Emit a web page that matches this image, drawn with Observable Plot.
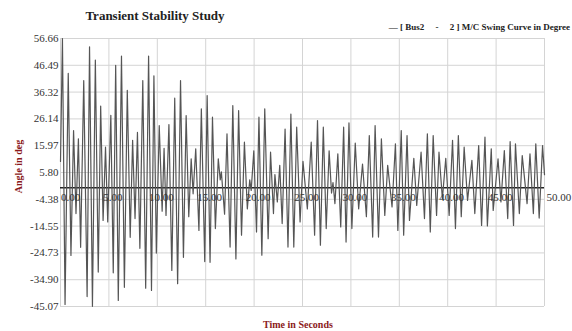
<!DOCTYPE html>
<html>
<head>
<meta charset="utf-8">
<script src="https://cdn.jsdelivr.net/npm/d3@7"></script>
<script src="https://cdn.jsdelivr.net/npm/@observablehq/plot@0.6"></script>
<style>
  html, body { margin: 0; padding: 0; background: #fff; }
  #wrap { position: relative; width: 572px; height: 331px; overflow: hidden; font-family: "Liberation Serif", "DejaVu Serif", serif; }
  #wrap svg { position: absolute; left: 0; top: 0; }
  .title { position: absolute; left: 55px; top: 8px; width: 200px; text-align: center; font-weight: bold; font-size: 13px; color: #222; }
  .legend { position: absolute; right: 2px; top: 22px; font-weight: bold; font-size: 9px; color: #222; white-space: pre; }
  .xlabel { position: absolute; left: 263px; top: 319px; font-weight: bold; font-size: 10px; color: #8b1a1a; white-space: nowrap; }
  .ylabel { position: absolute; left: -12px; top: 161px; width: 60px; text-align: center; transform: rotate(-90deg); font-weight: bold; font-size: 10px; color: #8b1a1a; white-space: nowrap; }
</style>
</head>
<body>
<div id="wrap">
  <div class="title">Transient Stability Study</div>
  <div class="legend">— [ Bus2     -     2 ] M/C Swing Curve in Degree</div>
  <div class="xlabel">Time in Seconds</div>
  <div class="ylabel">Angle in deg</div>
</div>
<script>
const timeSec = [
  0, 0.2, 0.47, 0.8, 1.08, 1.35, 1.6, 1.85, 2.08, 2.4, 2.75, 3.0, 3.3, 3.6, 3.9, 4.15, 4.4, 4.65, 4.88, 5.2,
  5.45, 5.7, 5.97, 6.3, 6.6, 6.9, 7.2, 7.45, 7.7, 7.95, 8.2, 8.5, 8.8, 9.1, 9.4, 9.65, 9.9, 10.2, 10.5, 10.7,
  10.9, 11.2, 11.5, 11.8, 12.1, 12.4, 12.7, 12.98, 13.25, 13.5, 13.7, 13.97, 14.3, 14.55, 14.9, 15.15, 15.45, 15.7, 16.0, 16.3,
  16.5, 16.62, 16.95, 17.2, 17.52, 17.8, 18.12, 18.4, 18.7, 19.0, 19.3, 19.55, 19.7, 19.97, 20.25, 20.5, 20.8, 21.1, 21.45, 21.7,
  22.0, 22.15, 22.4, 22.65, 22.9, 23.2, 23.5, 23.8, 24.1, 24.4, 24.75, 25.05, 25.5, 25.9, 26.25, 26.55, 26.85, 27.15, 27.45, 27.75,
  28.0, 28.15, 28.35, 28.65, 28.95, 29.25, 29.5, 29.8, 30.1, 30.45, 30.8, 31.2, 31.6, 31.9, 32.25, 32.5, 32.85, 33.15, 33.5, 33.8,
  34.25, 34.6, 34.85, 35.2, 35.45, 35.8, 36.05, 36.5, 36.8, 37.25, 37.6, 37.9, 38.2, 38.5, 38.85, 39.1, 39.45, 39.8, 40.15, 40.5,
  40.8, 41.1, 41.4, 41.7, 42.05, 42.5, 42.8, 43.2, 43.5, 43.85, 44.1, 44.5, 44.7, 45.2, 45.5, 45.85, 46.2, 46.45, 46.8, 47.0,
  47.4, 47.7, 48.2, 48.5, 48.85, 49.1, 49.45, 49.8, 50.0
];
const angleDeg = [
  10, 56.66, -44.3, 43.4, -25.7, 21.7, -9.8, 18.6, -22.6, 40.7, -41.3, 53.5, -45.0, 48.5, -32.0, 31.0, -12.4, 15.4, -13.0, 27.5,
  -32.3, 46.5, -42.8, 50.0, -37.8, 37.0, -18.8, 18.0, -11.7, 21.0, -23.0, 40.7, -38.1, 50.0, -39.0, 42.5, -24.8, 23.6, -8.9, 15.0,
  -10.5, 24.0, -31.4, 34.0, -36.4, 40.7, -26.4, 27.4, -11.0, 11.0, -2.3, 14.8, -16.2, 30.0, -28.0, 35.0, -28.3, 26.8, -15.5, 11.0,
  3.0, 6.0, -10.0, 20.5, -22.5, 31.2, -27.0, 29.3, -18.0, 17.3, -8.0, 3.0, -1.0, 14.0, -16.8, 26.8, -25.6, 30.0, -19.3, 13.5,
  -9.8, 5.0, -5.4, 8.5, -13.6, 22.3, -22.5, 28.0, -22.5, 23.0, -13.0, 10.0, -8.0, 17.3, -18.0, 25.5, -21.8, 23.0, -15.5, 14.0,
  -2.0, 2.0, -6.0, 12.9, -14.9, 23.0, -20.6, 24.6, -15.5, 17.0, -8.0, 9.0, -11.0, 19.8, -18.7, 23.6, -18.7, 18.6, -10.5, 8.5,
  -7.3, 16.7, -16.2, 21.7, -18.0, 19.8, -12.4, 11.2, -6.7, 13.5, -11.7, 20.5, -16.8, 19.8, -10.5, 13.5, -4.2, 11.2, -10.5, 18.0,
  -15.5, 19.8, -11.0, 15.4, -4.8, 10.4, -9.8, 16.0, -14.3, 19.2, -14.5, 14.8, -8.6, 11.0, -5.4, 14.1, -11.7, 17.5, -14.3, 16.7,
  -9.8, 12.2, -6.0, 12.9, -9.8, 16.7, -11.5, 16.0, 5.0
];
const yTicks = [56.66, 46.49, 36.32, 26.14, 15.97, 5.80, -4.38, -14.55, -24.73, -34.90, -45.07];
const xTicks = [0, 5, 10, 15, 20, 25, 30, 35, 40, 45, 50];
const xTickLabels = ["0.00", "5.00", "10.00", "15.00", "20.00", "25.00", "30.00", "35.00", "40.00", "45.00", "50.00"];

const series = timeSec.map((t, i) => ({t, v: angleDeg[i]}));
const xLab = xTicks.map((x, i) => ({x, label: xTickLabels[i]}));

const chart = Plot.plot({
  width: 572,
  height: 331,
  marginLeft: 60,
  marginRight: 28,
  marginTop: 38,
  marginBottom: 25,
  style: {fontFamily: "Liberation Serif, DejaVu Serif, serif", fontSize: "11px", background: "transparent", color: "#222"},
  x: {domain: [0, 50], axis: null},
  y: {domain: [-45.07, 56.66], axis: null},
  marks: [
    Plot.gridX(xTicks, {stroke: "#d4d4d4", strokeOpacity: 1}),
    Plot.gridY(yTicks, {stroke: "#d4d4d4", strokeOpacity: 1}),
    Plot.axisY(yTicks, {tickSize: 0, tickPadding: 2, tickFormat: d => d.toFixed(2), fontSize: 11, fill: "#333", label: null}),
    Plot.ruleY([0], {stroke: "#222", strokeWidth: 1.5}),
    Plot.line(series, {x: "t", y: "v", stroke: "#555", strokeWidth: 1.2}),
    Plot.text(xLab.slice(0, 1), {x: "x", y: () => 0, text: "label", dy: 10, dx: 10, fontSize: 11, fill: "#333"}),
    Plot.text(xLab.slice(1, 10), {x: "x", y: () => 0, text: "label", dy: 10, dx: 4, fontSize: 11, fill: "#333"}),
    Plot.text(xLab.slice(10), {x: "x", y: () => 0, text: "label", dy: 10, dx: 2, textAnchor: "start", fontSize: 11, fill: "#333"})
  ]
});
document.getElementById("wrap").prepend(chart);
</script>
</body>
</html>
